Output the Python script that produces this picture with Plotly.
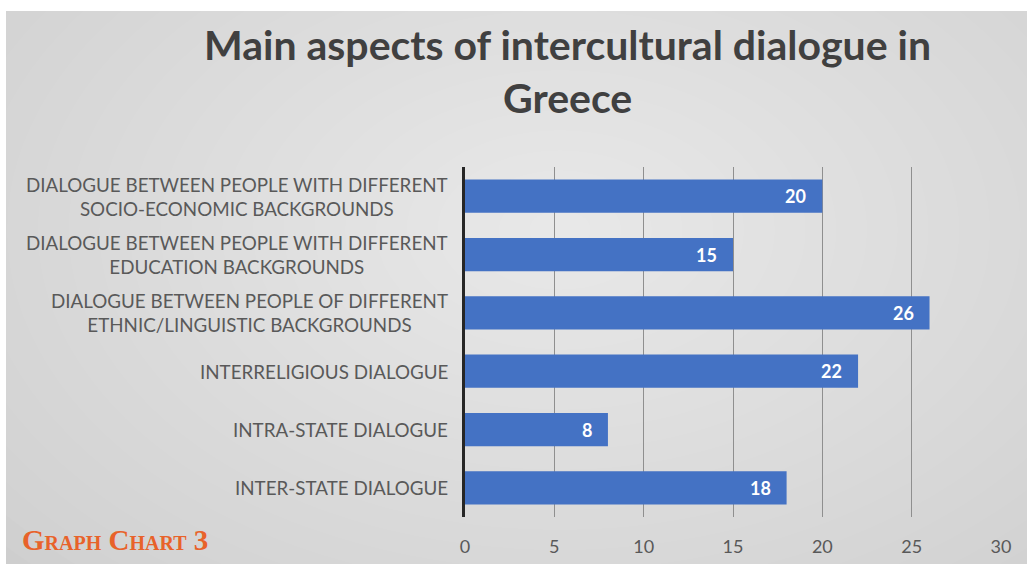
import plotly.graph_objects as go

categories = [
    "DIALOGUE BETWEEN PEOPLE WITH DIFFERENT<br>SOCIO-ECONOMIC BACKGROUNDS",
    "DIALOGUE BETWEEN PEOPLE WITH DIFFERENT<br>EDUCATION BACKGROUNDS",
    "DIALOGUE BETWEEN PEOPLE OF DIFFERENT<br>ETHNIC/LINGUISTIC BACKGROUNDS",
    "INTERRELIGIOUS DIALOGUE",
    "INTRA-STATE DIALOGUE",
    "INTER-STATE DIALOGUE",
]
values = [20, 15, 26, 22, 8, 18]
x_ticks = [0, 5, 10, 15, 20, 25, 30]
title_lines = ["Main aspects of intercultural dialogue in", "Greece"]
caption = "Graph Chart 3"

W, H = 1027, 564
ML, MR, MT, MB = 465, 26, 167, 47
PW, PH = W - ML - MR, H - MT - MB


def px(x):
    return (x - ML) / PW


def py(y):
    return (H - MB - y) / PH


fig = go.Figure()
fig.add_trace(go.Bar(
    y=categories,
    x=values,
    orientation="h",
    marker=dict(color="#4472C4", line=dict(width=0)),
    showlegend=False,
    hoverinfo="x+y",
))

# background: radial-ish gradient via layered translucent ellipses
shapes = []
n = 28
cx, cy = 560, 230
for i in range(n):
    f = 1 - i / n
    rx, ry = 860 * f, 560 * f
    shapes.append(dict(
        type="circle", xref="paper", yref="paper", layer="below",
        x0=px(cx - rx), x1=px(cx + rx), y0=py(cy + ry), y1=py(cy - ry),
        fillcolor="rgba(255,255,255,0.042)", line=dict(width=0),
    ))
# white margins at top and left
shapes.append(dict(type="rect", xref="paper", yref="paper", layer="below",
                   x0=px(-5), x1=px(W + 5), y0=py(11), y1=py(-5),
                   fillcolor="white", line=dict(width=0)))
shapes.append(dict(type="rect", xref="paper", yref="paper", layer="below",
                   x0=px(-5), x1=px(6), y0=py(H + 5), y1=py(-5),
                   fillcolor="white", line=dict(width=0)))

annotations = []
for i, t in enumerate(title_lines):
    annotations.append(dict(
        text=t, xref="paper", yref="paper", x=px(567), y=py(44 + 53 * i),
        xanchor="center", yanchor="middle", showarrow=False,
        font=dict(family="Lato", size=41, color="#404040", weight="bold"),
    ))
for c in categories:
    annotations.append(dict(
        text=c, xref="paper", yref="y", x=0, y=c, xshift=-15,
        xanchor="right", yanchor="middle", align="center", showarrow=False,
        font=dict(family="Lato", size=18.8, color="#595959"),
    ))
for c, v in zip(categories, values):
    annotations.append(dict(
        text=str(v), xref="x", yref="y", x=v, y=c, xshift=-14,
        xanchor="right", yanchor="middle", showarrow=False,
        font=dict(family="Lato", size=18, color="white", weight="bold"),
    ))
annotations.append(dict(
    text=caption, xref="paper", yref="paper", x=px(20), y=py(540),
    xanchor="left", yanchor="middle", showarrow=False,
    font=dict(family="Liberation Serif", size=29, color="#E8622A", weight="bold",
              variant="small-caps"),
))

fig.update_layout(
    width=W, height=H,
    margin=dict(l=ML, r=MR, t=MT, b=MB, pad=0, autoexpand=False),
    paper_bgcolor="#c6c6c6",
    plot_bgcolor="rgba(0,0,0,0)",
    bargap=0.43,
    shapes=shapes,
    annotations=annotations,
    xaxis=dict(
        range=[0, 30], tickvals=x_ticks, showgrid=True, gridcolor="#8f8f8f",
        gridwidth=1, zeroline=False, showline=False, automargin=False,
        tickfont=dict(family="Lato", size=18, color="#595959"),
        ticklabelstandoff=17,
    ),
    yaxis=dict(
        autorange="reversed", showticklabels=False, showgrid=False,
        showline=True, linecolor="#262626", linewidth=2.5, zeroline=False,
        automargin=False,
    ),
)

fig.write_html(
    "out.html", config={"displayModeBar": False},
    post_script="document.body.style.margin='0';"
                "document.body.style.background='#c6c6c6';",
)
